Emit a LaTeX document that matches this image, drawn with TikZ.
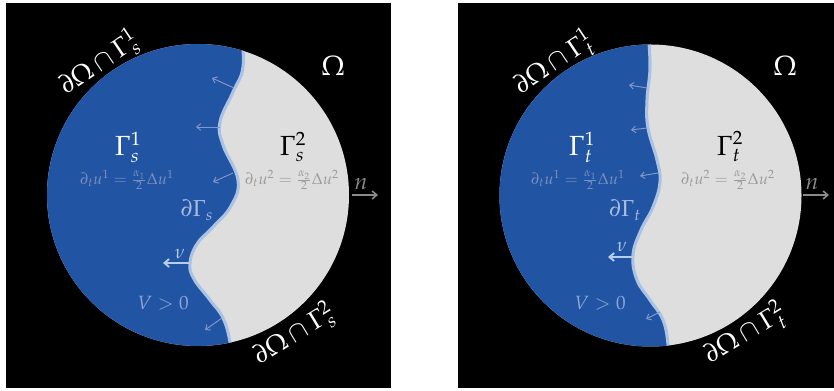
\documentclass[tikz,border=0pt]{standalone}
\usepackage{mathpazo}
\usetikzlibrary{arrows.meta}
\definecolor{bluereg}{HTML}{2155A3}
\definecolor{grayreg}{HTML}{DEDEDE}
\definecolor{iface}{HTML}{A9C2E5}
\definecolor{smallarr}{HTML}{8498CC}
\definecolor{nuarr}{HTML}{B9CCEA}
\definecolor{dgtext}{HTML}{A8BCE3}
\definecolor{vtext}{HTML}{8DA6D8}
\definecolor{eqone}{HTML}{7A8FC0}
\definecolor{eqtwo}{HTML}{9B9B9B}
\definecolor{narr}{HTML}{8A8A8A}
\begin{document}
\begin{tikzpicture}[x=0.75pt,y=-0.75pt,
  sarr/.style={draw=smallarr, line width=0.7pt, -{Straight Barb[length=3pt,width=5pt]}},
  nuarrow/.style={draw=nuarr, line width=1.4pt, -{Straight Barb[length=3.5pt,width=6pt]}},
  narrow/.style={draw=narr, line width=1.2pt, -{Straight Barb[length=3.5pt,width=6pt]}},
  big/.style={font=\huge, inner sep=0pt},
  bnd/.style={font=\fontsize{19.5}{23}\selectfont, text=white, inner sep=0pt},
  eq/.style={font=\large, inner sep=0pt},
  ifline/.style={draw=iface, line width=2.3pt}]
\useasboundingbox (0,0) rectangle (834,391);
\fill[white] (0,0) rectangle (834,391);
\fill[black] (6,3) rectangle (391,388);
\fill[black] (458,3) rectangle (834,388);

% ---------- left panel ----------
\coordinate (C1) at (198,195);
\fill[grayreg] (C1) circle (151);
\begin{scope}
\clip (C1) circle (151);
\fill[bluereg] plot[smooth, tension=0.7] coordinates {(241,30) (243,67) (233,92) (220,122) (223,145) (238,180) (231,206) (213,227) (197,244) (190,263) (194,279) (210,300) (223,318) (230,342) (232,365)} -- (0,391) -- (0,0) -- cycle;
\draw[ifline] plot[smooth, tension=0.7] coordinates {(241,30) (243,67) (233,92) (220,122) (223,145) (238,180) (231,206) (213,227) (197,244) (190,263) (194,279) (210,300) (223,318) (230,342) (232,365)};
\end{scope}

\node[big, text=white] (O1) at (333,66) {$\Omega$};
\node[big, text=white] (G1s) at (128,147) {$\Gamma^1_s$};
\node[big, text=black] (G2s) at (293,147) {$\Gamma^2_s$};
\node[eq, text=eqone] (E1s) at (127,180) {$\partial_t u^1 = \frac{\alpha_1}{2}\Delta u^1$};
\node[eq, text=eqtwo] (E2s) at (292,180) {$\partial_t u^2 = \frac{\alpha_2}{2}\Delta u^2$};
\node[font=\LARGE, text=dgtext, inner sep=0pt] (DG1) at (197,210) {$\partial\Gamma_s$};
\node[font=\Large, text=vtext, inner sep=0pt] (V1) at (163,303) {$V>0$};
\node[bnd, rotate=34] (B1a) at (99,63) {$\partial\Omega\cap\Gamma^1_s$};
\node[bnd, rotate=31] (B1b) at (294,334) {$\partial\Omega\cap\Gamma^2_s$};

\coordinate (a1s) at (234,88);  \coordinate (a1e) at (212,78);
\coordinate (a2s) at (220,127); \coordinate (a2e) at (196,127);
\coordinate (a3s) at (233,173); \coordinate (a3e) at (213,182);
\coordinate (a4s) at (222,318); \coordinate (a4e) at (205,330);
\draw[sarr] (a1s) -- (a1e);
\draw[sarr] (a2s) -- (a2e);
\draw[sarr] (a3s) -- (a3e);
\draw[sarr] (a4s) -- (a4e);
\coordinate (nu1s) at (190,263); \coordinate (nu1e) at (163,263);
\draw[nuarrow] (nu1s) -- (nu1e);
\node[font=\Large, text=nuarr, inner sep=0pt] (nul1) at (180,254) {$\nu$};
\coordinate (n1s) at (352,195); \coordinate (n1e) at (378,195);
\draw[narrow] (n1s) -- (n1e);
\node[font=\LARGE, text=narr, inner sep=0pt] (nl1) at (361,184) {$n$};

% ---------- right panel ----------
\coordinate (C2) at (650.5,195.5);
\fill[grayreg] (C2) circle (151);
\begin{scope}
\clip (C2) circle (151);
\fill[bluereg] plot[smooth, tension=0.7] coordinates {(648,30) (650,67) (647,100) (648,128) (657,160) (660,182) (653,207) (641,230) (633,255) (637,280) (650,300) (663,320) (668,344) (669,365)} -- (420,391) -- (420,0) -- cycle;
\draw[ifline] plot[smooth, tension=0.7] coordinates {(648,30) (650,67) (647,100) (648,128) (657,160) (660,182) (653,207) (641,230) (633,255) (637,280) (650,300) (663,320) (668,344) (669,365)};
\end{scope}

\node[big, text=white] (O2) at (785,66) {$\Omega$};
\node[big, text=white] (G1t) at (582,147) {$\Gamma^1_t$};
\node[big, text=black] (G2t) at (730,147) {$\Gamma^2_t$};
\node[eq, text=eqone] (E1t) at (578,180) {$\partial_t u^1 = \frac{\alpha_1}{2}\Delta u^1$};
\node[eq, text=eqtwo] (E2t) at (728,180) {$\partial_t u^2 = \frac{\alpha_2}{2}\Delta u^2$};
\node[font=\LARGE, text=dgtext, inner sep=0pt] (DG2) at (625,210) {$\partial\Gamma_t$};
\node[font=\Large, text=vtext, inner sep=0pt] (V2) at (600,303) {$V>0$};
\node[bnd, rotate=34] (B2a) at (554,63) {$\partial\Omega\cap\Gamma^1_t$};
\node[bnd, rotate=31] (B2b) at (745,334) {$\partial\Omega\cap\Gamma^2_t$};

\coordinate (b1s) at (647,88);  \coordinate (b1e) at (629,85);
\coordinate (b2s) at (647,128); \coordinate (b2e) at (631,130);
\coordinate (b3s) at (658,173); \coordinate (b3e) at (640,176);
\coordinate (b4s) at (660,312); \coordinate (b4e) at (646,319);
\draw[sarr] (b1s) -- (b1e);
\draw[sarr] (b2s) -- (b2e);
\draw[sarr] (b3s) -- (b3e);
\draw[sarr] (b4s) -- (b4e);
\coordinate (nu2s) at (633,257); \coordinate (nu2e) at (608,257);
\draw[nuarrow] (nu2s) -- (nu2e);
\node[font=\Large, text=nuarr, inner sep=0pt] (nul2) at (622,247) {$\nu$};
\coordinate (n2s) at (803,195); \coordinate (n2e) at (829,195);
\draw[narrow] (n2s) -- (n2e);
\node[font=\LARGE, text=narr, inner sep=0pt] (nl2) at (812,184) {$n$};
\end{tikzpicture}
\end{document}
